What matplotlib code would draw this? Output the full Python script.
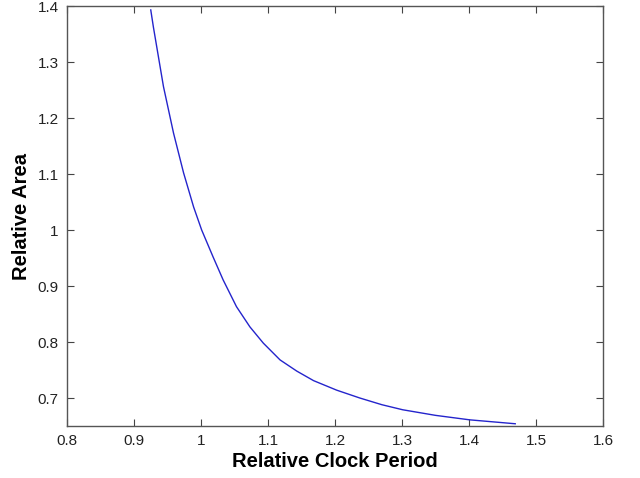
import matplotlib
matplotlib.use("Agg")
import matplotlib.pyplot as plt

plt.rcParams['font.family'] = ['Liberation Sans', 'DejaVu Sans']

clock_period = [0.925, 0.929, 0.944, 0.959, 0.974, 0.989, 1.001, 1.018, 1.033, 1.053,
                1.073, 1.093, 1.118, 1.143, 1.168, 1.2025, 1.237, 1.270, 1.301,
                1.350, 1.401, 1.469]
rel_area = [1.393, 1.362, 1.256, 1.173, 1.102, 1.041, 1.000, 0.952, 0.911, 0.863,
            0.827, 0.798, 0.768, 0.748, 0.731, 0.714, 0.700, 0.688, 0.679,
            0.669, 0.661, 0.654]

xticks = [0.8, 0.9, 1, 1.1, 1.2, 1.3, 1.4, 1.5, 1.6]
xticklabels = ['0.8', '0.9', '1', '1.1', '1.2', '1.3', '1.4', '1.5', '1.6']
yticks = [0.7, 0.8, 0.9, 1, 1.1, 1.2, 1.3, 1.4]
yticklabels = ['0.7', '0.8', '0.9', '1', '1.1', '1.2', '1.3', '1.4']

fig = plt.figure(figsize=(6.4, 4.78), dpi=100)
ax = fig.add_axes([67/640, 1 - 426/478, (603-67)/640, (426-6)/478])
ax.plot(clock_period, rel_area, color='#2424cc', linewidth=1.0)
ax.set_xlim(0.8, 1.6)
ax.set_ylim(0.65, 1.4)
ax.set_xticks(xticks)
ax.set_xticklabels(xticklabels)
ax.set_yticks(yticks)
ax.set_yticklabels(yticklabels)
ax.tick_params(direction='in', top=True, right=True, labelsize=11, length=5,
               color='#444444', labelcolor='#222222', pad=6)
for s in ax.spines.values():
    s.set_color('#555555')
    s.set_linewidth(1.0)
ax.set_xlabel('Relative Clock Period', fontsize=14.5, fontweight='bold', va='center')
ax.set_ylabel('Relative Area', fontsize=14.5, fontweight='bold', va='center')
ax.xaxis.set_label_coords(0.5, -0.0857)
ax.yaxis.set_label_coords(-0.084, 0.5)
fig.savefig('out.png', dpi=100)
